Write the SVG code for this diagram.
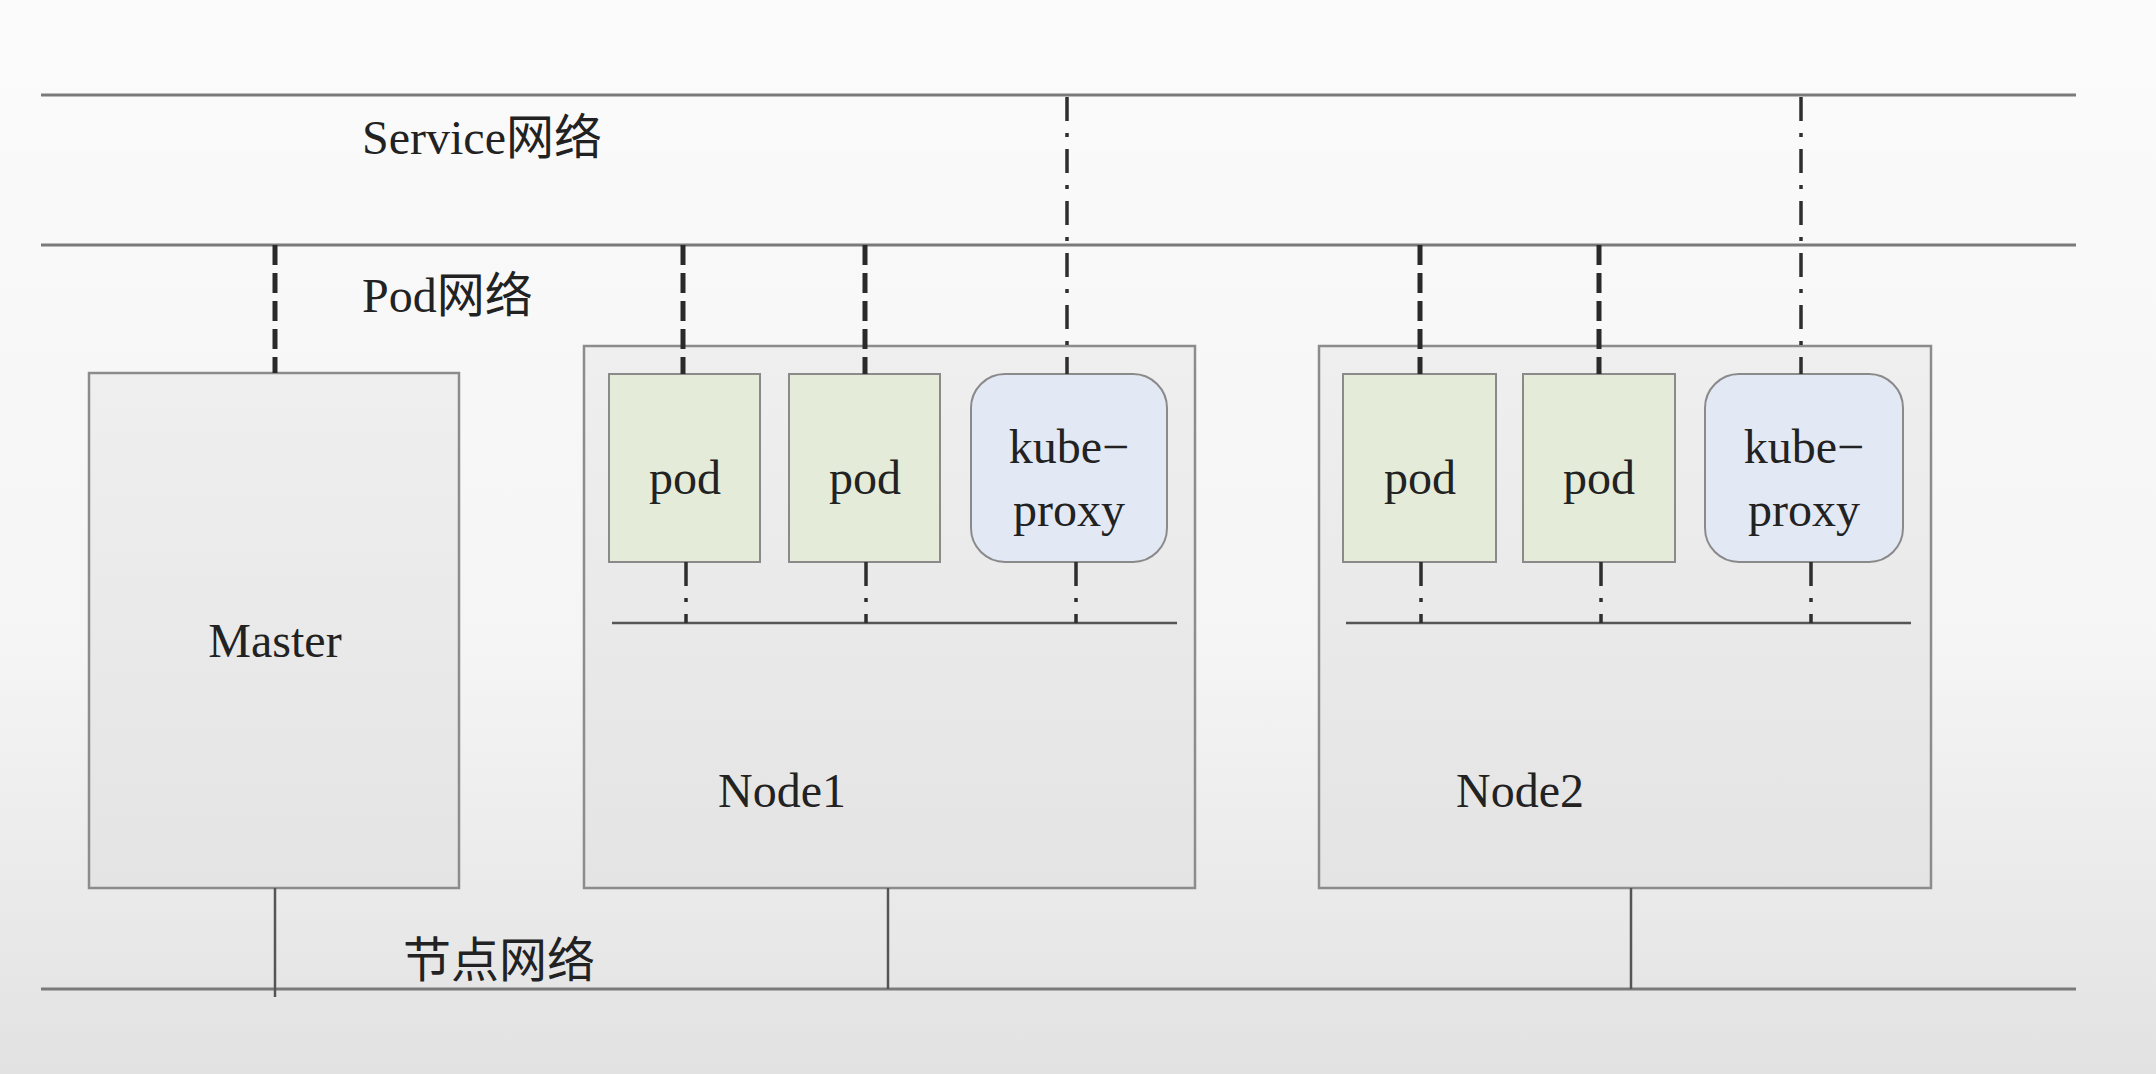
<svg xmlns="http://www.w3.org/2000/svg" width="2156" height="1074" viewBox="0 0 2156 1074">
<defs>
<linearGradient id="bg" x1="0" y1="0" x2="0" y2="1">
<stop offset="0" stop-color="#fbfbfb"/>
<stop offset="0.6" stop-color="#f5f5f5"/>
<stop offset="1" stop-color="#e2e2e2"/>
</linearGradient>
<linearGradient id="box" x1="0" y1="0" x2="0" y2="1">
<stop offset="0" stop-color="#efefef"/>
<stop offset="1" stop-color="#e4e4e4"/>
</linearGradient>
<style>
.t{font-family:"Liberation Serif","Noto Sans CJK SC",serif;font-size:48px;fill:#222}
.net{stroke:#7a7a7a;stroke-width:3;fill:none}
.box{fill:url(#box);stroke:#8c8c8c;stroke-width:2.5}
.pod{fill:#e4ebd8;stroke:#8a8a8a;stroke-width:2}
.kp{fill:#e3e9f4;stroke:#8a8a8a;stroke-width:2}
.thick{stroke:#2a2a2a;stroke-width:5;stroke-dasharray:20 8;fill:none}
.dd{stroke:#2e2e2e;stroke-width:3.5;stroke-dasharray:24 12 4 12;fill:none}
.solid{stroke:#555;stroke-width:2.5;fill:none}
</style>
</defs>
<rect width="2156" height="1074" fill="url(#bg)"/>

<g id="networks">
<line class="net" x1="41" y1="95" x2="2076" y2="95"/>
<line class="net" x1="41" y1="245" x2="2076" y2="245"/>
<line class="net" x1="41" y1="989" x2="2076" y2="989" stroke-width="4"/>
<text class="t" x="362" y="154">Service网络</text>
<text class="t" x="362" y="312">Pod网络</text>
<text class="t" x="403" y="977">节点网络</text>
</g>

<g id="master">
<rect class="box" x="89" y="373" width="370" height="515"/>
<text class="t" x="275" y="657" text-anchor="middle">Master</text>
</g>

<g id="node1">
<rect class="box" x="584" y="346" width="611" height="542"/>
<text class="t" x="782" y="807" text-anchor="middle">Node1</text>
<line class="solid" x1="612" y1="623" x2="1177" y2="623"/>
</g>
<g id="node1-pod1">
<rect class="pod" x="609" y="374" width="151" height="188"/>
<text class="t" x="685" y="494" text-anchor="middle">pod</text>
</g>
<g id="node1-pod2">
<rect class="pod" x="789" y="374" width="151" height="188"/>
<text class="t" x="865" y="494" text-anchor="middle">pod</text>
</g>
<g id="node1-kube-proxy">
<rect class="kp" x="971" y="374" width="196" height="188" rx="34"/>
<text class="t" x="1069" y="463" text-anchor="middle">kube−</text>
<text class="t" x="1069" y="526" text-anchor="middle">proxy</text>
</g>

<g id="node2">
<rect class="box" x="1319" y="346" width="612" height="542"/>
<text class="t" x="1520" y="807" text-anchor="middle">Node2</text>
<line class="solid" x1="1346" y1="623" x2="1911" y2="623"/>
</g>
<g id="node2-pod1">
<rect class="pod" x="1343" y="374" width="153" height="188"/>
<text class="t" x="1420" y="494" text-anchor="middle">pod</text>
</g>
<g id="node2-pod2">
<rect class="pod" x="1523" y="374" width="152" height="188"/>
<text class="t" x="1599" y="494" text-anchor="middle">pod</text>
</g>
<g id="node2-kube-proxy">
<rect class="kp" x="1705" y="374" width="198" height="188" rx="34"/>
<text class="t" x="1804" y="463" text-anchor="middle">kube−</text>
<text class="t" x="1804" y="526" text-anchor="middle">proxy</text>
</g>

<g id="connectors">
<line class="thick" x1="275" y1="245" x2="275" y2="373"/>
<line class="thick" x1="683" y1="245" x2="683" y2="374"/>
<line class="thick" x1="865" y1="245" x2="865" y2="374"/>
<line class="thick" x1="1420" y1="245" x2="1420" y2="374"/>
<line class="thick" x1="1599" y1="245" x2="1599" y2="374"/>
<line class="dd" x1="1067" y1="97" x2="1067" y2="374"/>
<line class="dd" x1="1801" y1="97" x2="1801" y2="374"/>
<line class="dd" x1="686" y1="562" x2="686" y2="623"/>
<line class="dd" x1="866" y1="562" x2="866" y2="623"/>
<line class="dd" x1="1076" y1="562" x2="1076" y2="623"/>
<line class="dd" x1="1421" y1="562" x2="1421" y2="623"/>
<line class="dd" x1="1601" y1="562" x2="1601" y2="623"/>
<line class="dd" x1="1811" y1="562" x2="1811" y2="623"/>
<line class="solid" x1="275" y1="888" x2="275" y2="997"/>
<line class="solid" x1="888" y1="888" x2="888" y2="989"/>
<line class="solid" x1="1631" y1="888" x2="1631" y2="989"/>
</g>
</svg>
